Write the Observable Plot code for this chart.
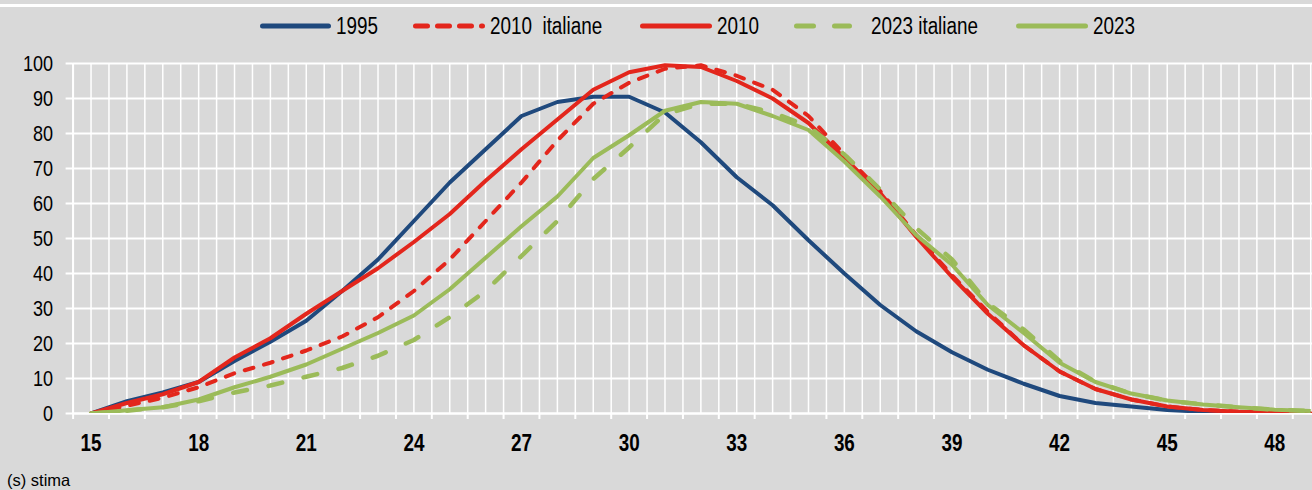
<!DOCTYPE html>
<html>
<head>
<meta charset="utf-8">
<script src="https://cdn.jsdelivr.net/npm/d3@7"></script>
<script src="https://cdn.jsdelivr.net/npm/@observablehq/plot@0.6"></script>
<style>
  html, body { margin: 0; padding: 0; background: #d9d9d9; }
  body { width: 1312px; height: 490px; overflow: hidden; position: relative;
         font-family: 'Liberation Sans', Arial, sans-serif; }
  #topline { position: absolute; left: 0; top: 4px; width: 1312px; height: 3px; background: #fff; }
  #legend { position: absolute; left: 0; top: 0; width: 1312px; height: 50px; }
  .lg-sw { position: absolute; top: 19px; }
  .lg-tx { position: absolute; top: 12px; font-size: 23px; line-height: 28px; color: #000; white-space: pre;
           transform: scaleX(0.82); transform-origin: 0 50%; }
  #chart { position: absolute; left: 0; top: 50px; }
  #note { position: absolute; left: 7px; top: 470px; font-family: 'Liberation Sans', Arial, sans-serif;
          font-size: 16.5px; line-height: 20px; color: #000; }
</style>
</head>
<body>
<div id="topline"></div>
<div id="legend"></div>
<div id="chart"></div>
<div id="note">(s) stima</div>
<script>
// ---- data ----
const ages = [15,16,17,18,19,20,21,22,23,24,25,26,27,28,29,30,31,32,33,34,35,36,37,38,39,40,41,42,43,44,45,46,47,48,49];
const xTickLabels = [15,18,21,24,27,30,33,36,39,42,45,48];
const yTickLabels = [0,10,20,30,40,50,60,70,80,90,100];

const series1995 = [0,3.5,6,9,15,20.5,26.5,35,44,55,66,75.5,85,89,90.5,90.5,86,77.5,67.5,59.5,49.5,40,31,23.5,17.5,12.5,8.5,5,3,2,1,0.5,0.2,0.1,0];
const series2010it = [0,2.2,4.5,7.5,11.5,14.5,18,22,27.5,35,44,55,66,78,88.5,94.5,98.5,99.5,96.5,92.5,85,74,63.5,51,39.5,29,19.5,12,7,4,2,1,0.5,0.2,0];
const series2010 = [0,3,5.5,9,16,21.5,28.5,35,41.5,49,57,66.5,75.5,84,92.5,97.5,99.5,99,95,90,83,73,63,50.5,39,28.5,19.5,12,7,4,2,1,0.5,0.2,0];
const series2023it = [0,0.8,1.8,3.5,6,8,10.5,13,16.5,21,27.5,35,45,55,67,76,85.5,88.5,88.5,86,82,74,64,53,44,31.5,24,15,9,5.7,3.7,2.6,1.8,1.1,0.7];
const series2023 = [0,0.9,1.8,4,7.5,10.5,14,18.5,23,28,35.5,44.5,53.5,62,73,79.5,86.5,89,88.5,85,81,72,62,51,42.5,31,23,14.5,9,5.7,3.7,2.6,1.8,1.1,0.7];

const seriesNames = ["1995", "2010  italiane", "2010", "2023 italiane", "2023"];
const seriesValues = [series1995, series2010it, series2010, series2023it, series2023];

// ---- styles ----
const styles = {
  "1995":           {stroke: "#1f497d", width: 4,   dash: null},
  "2010  italiane": {stroke: "#e3261c", width: 4,   dash: "9,11"},
  "2010":           {stroke: "#e3261c", width: 4,   dash: null},
  "2023 italiane":  {stroke: "#9bbb59", width: 4.5, dash: "14,22"},
  "2023":           {stroke: "#9bbb59", width: 4,   dash: null}
};

// ---- legend (HTML) ----
const legendItems = [
  {name: "1995", x1: 260, x2: 331, tx: 336},
  {name: "2010  italiane", x1: 413, x2: 485, tx: 490},
  {name: "2010", x1: 640, x2: 712, tx: 717},
  {name: "2023 italiane", x1: 794, x2: 852, tx: 871},
  {name: "2023", x1: 1016, x2: 1088, tx: 1093}
];
const legend = document.getElementById("legend");
const legendDash = {"2010  italiane": "12,10", "2023 italiane": "17,21"};
for (const it of legendItems) {
  const s = styles[it.name];
  const w = it.x2 - it.x1;
  const sw = document.createElementNS("http://www.w3.org/2000/svg", "svg");
  sw.setAttribute("class", "lg-sw");
  sw.setAttribute("width", w + 6);
  sw.setAttribute("height", 14);
  sw.style.left = (it.x1 - 3) + "px";
  const ln = document.createElementNS("http://www.w3.org/2000/svg", "line");
  ln.setAttribute("x1", 3 + 2.5); ln.setAttribute("x2", 3 + w - 2.5);
  ln.setAttribute("y1", 7); ln.setAttribute("y2", 7);
  ln.setAttribute("stroke", s.stroke);
  ln.setAttribute("stroke-width", 5);
  ln.setAttribute("stroke-linecap", "round");
  if (legendDash[it.name]) ln.setAttribute("stroke-dasharray", legendDash[it.name]);
  sw.appendChild(ln);
  legend.appendChild(sw);
  const tx = document.createElement("div");
  tx.className = "lg-tx";
  tx.style.left = it.tx + "px";
  tx.textContent = it.name;
  legend.appendChild(tx);
}

// ---- long table ----
const rows = [];
seriesNames.forEach((name, i) => {
  seriesValues[i].forEach((v, j) => rows.push({serie: name, age: ages[j], value: v}));
});

const gridX = [];
for (let a = 14.5; a <= 49.01; a += 0.5) gridX.push(a);
const boundaryTicks = gridX.filter(a => Math.abs(a % 1) === 0.5);

const lineMarks = seriesNames.map(name => {
  const s = styles[name];
  return Plot.line(rows.filter(r => r.serie === name), {
    x: "age", y: "value",
    stroke: s.stroke, strokeWidth: s.width,
    strokeDasharray: s.dash || undefined,
    strokeLinecap: s.dash ? "round" : "butt",
    strokeLinejoin: "round",
    clip: true
  });
});

const chart = Plot.plot({
  width: 1312,
  height: 420,
  marginLeft: 72.6,
  marginRight: 0,
  marginTop: 13,
  marginBottom: 57,
  style: {background: "transparent", fontFamily: "'Liberation Sans', Arial, sans-serif"},
  x: {domain: [14.5, 49.05], axis: null},
  y: {domain: [0, 100], axis: null},
  marks: [
    Plot.ruleY(yTickLabels, {stroke: "white", strokeWidth: 2}),
    Plot.ruleX(gridX, {stroke: "white", strokeWidth: 1.5}),
    Plot.axisY({ticks: yTickLabels, label: null, tickSize: 7, tickPadding: 13, stroke: "white", strokeWidth: 2, fill: "black", fontSize: 22, tickFormat: d => String(d)}),
    Plot.axisX({ticks: boundaryTicks, label: null, tickSize: 6, stroke: "white", strokeWidth: 2, tickFormat: () => ""}),
    Plot.axisX({ticks: xTickLabels, label: null, tickSize: 0, tickPadding: 21, fill: "black", fontSize: 23, fontWeight: "bold", tickFormat: d => String(d)}),
    Plot.ruleX([14.5], {stroke: "white", strokeWidth: 2}),
    Plot.ruleY([0], {stroke: "white", strokeWidth: 2}),
    ...lineMarks
  ]
});
// condense tick label text (the reference uses a narrow face)
chart.querySelectorAll('g[aria-label$="tick label"] text').forEach(t => {
  const tr = t.getAttribute("transform") || "";
  t.setAttribute("transform", tr + " scale(0.82,1)");
});
document.getElementById("chart").appendChild(chart);
</script>
</body>
</html>
